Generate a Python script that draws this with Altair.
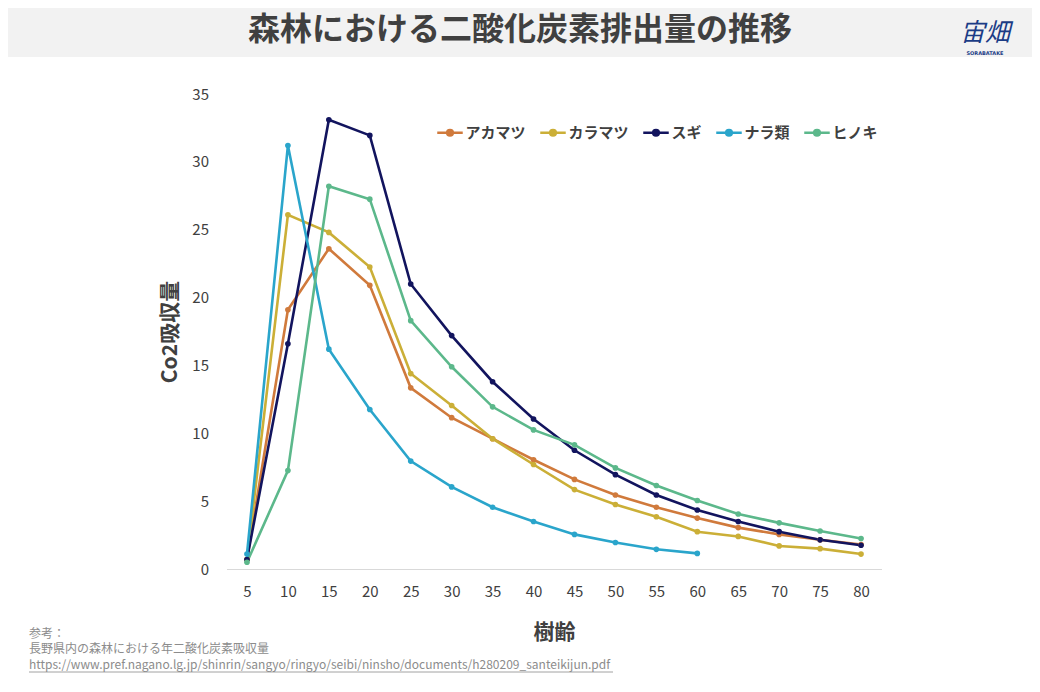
import altair as alt
import pandas as pd

ages = [5, 10, 15, 20, 25, 30, 35, 40, 45, 50, 55, 60, 65, 70, 75, 80]
series_names = ["アカマツ", "カラマツ", "スギ", "ナラ類", "ヒノキ"]
colors = ["#D07A3C", "#CBAF37", "#12145E", "#2AA5CB", "#5CB88B"]

akamatsu = [0.7, 19.1, 23.6, 20.9, 13.35, 11.15, 9.6, 8.05, 6.6, 5.45, 4.55, 3.75, 3.05, 2.55, 2.15, 1.8]
karamatsu = [0.7, 26.1, 24.8, 22.25, 14.4, 12.05, 9.6, 7.7, 5.85, 4.75, 3.85, 2.75, 2.4, 1.7, 1.5, 1.1]
sugi = [0.7, 16.6, 33.1, 31.95, 21.0, 17.2, 13.8, 11.05, 8.75, 6.95, 5.45, 4.35, 3.5, 2.75, 2.15, 1.75]
nara = [1.1, 31.2, 16.2, 11.75, 7.95, 6.05, 4.55, 3.5, 2.55, 1.95, 1.45, 1.15]
hinoki = [0.5, 7.25, 28.2, 27.25, 18.3, 14.9, 11.95, 10.25, 9.15, 7.45, 6.15, 5.05, 4.05, 3.4, 2.8, 2.25]

rows = []
for name, vals in zip(series_names, [akamatsu, karamatsu, sugi, nara, hinoki]):
    for a, v in zip(ages, vals):
        rows.append({"樹齢": a, "値": v, "樹種": name})
df = pd.DataFrame(rows)

FONT = "Noto Sans CJK JP"
W, H = 655, 475
PL, PT = 218.5, 86
TOTAL_W, TOTAL_H = 1024, 676

color_scale = alt.Scale(domain=series_names, range=colors)

legend_symbol = "M-1,0H1M0.22,0A0.22,0.22,0,1,1,-0.22,0A0.22,0.22,0,1,1,0.22,0M0.1,0A0.1,0.1,0,1,1,-0.1,0A0.1,0.1,0,1,1,0.1,0"

lines = alt.Chart(df).mark_line(
    strokeWidth=2.6,
    point=alt.OverlayMarkDef(filled=True, size=32),
).encode(
    x=alt.X("樹齢:Q",
            scale=alt.Scale(domain=[2.5, 82.5], nice=False, zero=False),
            axis=alt.Axis(values=ages, title="樹齢", grid=False, ticks=False,
                          domainColor="#d9d9d9", domainWidth=1.2,
                          labelFontSize=15, labelColor="#404040", labelFont=FONT,
                          labelPadding=15, titleFontSize=21, titleFont=FONT,
                          titleFontWeight="bold", titleColor="#404040",
                          titlePadding=22)),
    y=alt.Y("値:Q",
            scale=alt.Scale(domain=[0, 35], nice=False),
            axis=alt.Axis(values=[0, 5, 10, 15, 20, 25, 30, 35], title="Co2吸収量",
                          grid=False, ticks=False, domain=False,
                          labelFontSize=15, labelColor="#404040", labelFont=FONT,
                          labelPadding=18, titleFontSize=21, titleFont=FONT,
                          titleFontWeight="bold", titleColor="#404040",
                          titlePadding=11)),
    color=alt.Color("樹種:N", scale=color_scale, sort=series_names,
                    legend=alt.Legend(title=None, orient="none", direction="horizontal",
                                      legendX=209, legendY=24,
                                      symbolType=legend_symbol, symbolSize=650,
                                      symbolStrokeWidth=2.6,
                                      labelFontSize=15, labelFont=FONT,
                                      labelColor="#404040", labelFontWeight="bold",
                                      columnPadding=8, labelOffset=1)),
    order=alt.Order("樹齢:Q"),
)

banner = alt.Chart(pd.DataFrame({"a": [0]})).mark_rect(color="#f2f2f2").encode(
    x=alt.value(-PL), x2=alt.value(TOTAL_W - PL),
    y=alt.value(-PT), y2=alt.value(-PT + 49),
)

title = alt.Chart(pd.DataFrame({"t": ["森林における二酸化炭素排出量の推移"]})).mark_text(
    font=FONT, fontSize=32, fontWeight="bold", color="#404040",
    align="center", baseline="middle",
).encode(text="t:N", x=alt.value(520 - 8 - PL), y=alt.value(30 - 8 - PT))

logo = alt.Chart(pd.DataFrame({"t": ["宙畑"]})).mark_text(
    font=FONT, fontSize=25, fontWeight="normal", fontStyle="italic", color="#1B3C86",
    align="center", baseline="middle",
).encode(text="t:N", x=alt.value(985 - 8 - PL), y=alt.value(33 - 8 - PT))

logo_sub = alt.Chart(pd.DataFrame({"t": ["SORABATAKE"]})).mark_text(
    font="DejaVu Sans", fontSize=5, fontWeight="bold", color="#1B3C86",
    align="center", baseline="middle",
).encode(text="t:N", x=alt.value(985 - 8 - PL), y=alt.value(53 - 8 - PT))

notes = ["参考：", "長野県内の森林における年二酸化炭素吸収量",
         "https://www.pref.nagano.lg.jp/shinrin/sangyo/ringyo/seibi/ninsho/documents/h280209_santeikijun.pdf"]
note_y = [634, 649, 665]
note_layers = []
for t, yy in zip(notes, note_y):
    note_layers.append(
        alt.Chart(pd.DataFrame({"t": [t]})).mark_text(
            font=FONT, fontSize=12, color="#8c8c8c", align="left", baseline="middle",
        ).encode(text="t:N", x=alt.value(29 - 8 - PL), y=alt.value(yy - 8 - PT))
    )
underline = alt.Chart(pd.DataFrame({"a": [0]})).mark_rule(color="#8c8c8c", strokeWidth=0.8).encode(
    x=alt.value(29 - 8 - PL), x2=alt.value(613 - 8 - PL),
    y=alt.value(672 - 8 - PT),
)

chart = alt.layer(banner, title, logo, logo_sub, lines, *note_layers, underline).properties(
    width=W, height=H,
    autosize=alt.AutoSizeParams(type="none"),
    padding={"left": PL, "top": PT, "right": TOTAL_W - PL - W, "bottom": TOTAL_H - PT - H},
).configure(background="white").configure_view(stroke=None, strokeWidth=0)

chart.save("out.html", embed_options={"renderer": "svg", "actions": False})
